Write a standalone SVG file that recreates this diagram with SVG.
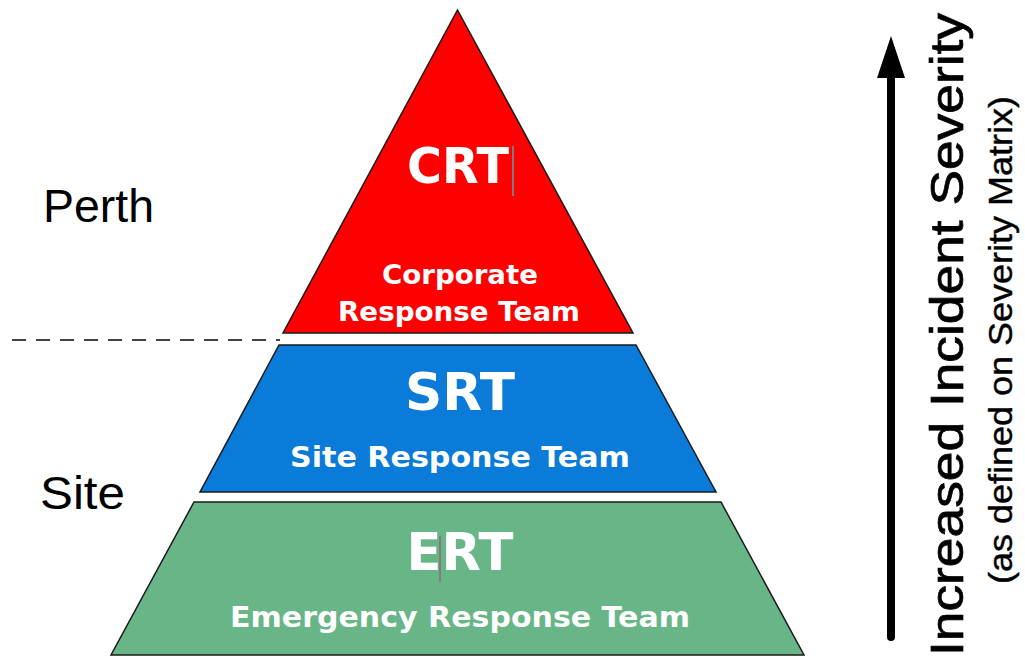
<svg xmlns="http://www.w3.org/2000/svg" width="1025" height="658" viewBox="0 0 1025 658">
<style>
.tier{stroke:#1a1a1a;stroke-width:1.5;stroke-linejoin:miter}
.big{font-family:"DejaVu Sans","Liberation Sans",sans-serif;font-weight:bold;fill:#fff;text-anchor:middle}
.sub{font-family:"DejaVu Sans","Liberation Sans",sans-serif;font-weight:bold;fill:#fff;text-anchor:middle}
.lbl{font-family:"Liberation Sans",Arial,sans-serif;fill:#000}
.heavy{stroke:#000;stroke-width:0.7}
</style>
<rect width="1025" height="658" fill="#fff"/>
<g id="crt">
<polygon class="tier" points="457.5,10 633,333 283,333" fill="#ff0000"/>
<text class="big" x="458" y="183" font-size="50" textLength="102" lengthAdjust="spacingAndGlyphs">CRT</text>
<line x1="513" y1="146" x2="513" y2="196" stroke="#3fc4d0" stroke-width="1.2"/>
<text class="sub" x="460" y="284" font-size="26" textLength="156" lengthAdjust="spacingAndGlyphs">Corporate</text>
<text class="sub" x="459" y="321" font-size="26" textLength="242" lengthAdjust="spacingAndGlyphs">Response Team</text>
</g>
<g id="srt">
<polygon class="tier" points="279,345 636,345 716,492 200,492" fill="#0a7bd8"/>
<text class="big" x="460" y="410" font-size="52" textLength="110" lengthAdjust="spacingAndGlyphs">SRT</text>
<text class="sub" x="460" y="467" font-size="28" textLength="340" lengthAdjust="spacingAndGlyphs">Site Response Team</text>
</g>
<g id="ert">
<polygon class="tier" points="194,502 721,502 804,655 111,655" fill="#68b587"/>
<text class="big" x="460" y="570" font-size="52" textLength="107" lengthAdjust="spacingAndGlyphs">ERT</text>
<line x1="440" y1="536" x2="440" y2="582" stroke="#a0507a" stroke-width="1.2"/>
<text class="sub" x="460" y="627" font-size="28" textLength="460" lengthAdjust="spacingAndGlyphs">Emergency Response Team</text>
</g>
<g id="labels">
<text class="lbl" x="43" y="222" font-size="47" textLength="111" lengthAdjust="spacingAndGlyphs">Perth</text>
<text class="lbl" x="40" y="509" font-size="46" textLength="85" lengthAdjust="spacingAndGlyphs">Site</text>
<text class="lbl heavy" transform="translate(963,656) rotate(-90)" x="0" y="0" font-size="46" textLength="643" lengthAdjust="spacingAndGlyphs">Increased Incident Severity</text>
<text class="lbl heavy" transform="translate(1012,584) rotate(-90)" x="0" y="0" font-size="33" textLength="488" lengthAdjust="spacingAndGlyphs" style="stroke-width:0.4">(as defined on Severity Matrix)</text>
</g>
<g id="connectors">
<line x1="12" y1="340" x2="280" y2="340" stroke="#444" stroke-width="2" stroke-dasharray="14,10"/>
<line x1="891" y1="637" x2="891" y2="72" stroke="#000" stroke-width="8" stroke-linecap="round"/>
<polygon points="891,36 905,78 877,78" fill="#000"/>
</g>
</svg>
